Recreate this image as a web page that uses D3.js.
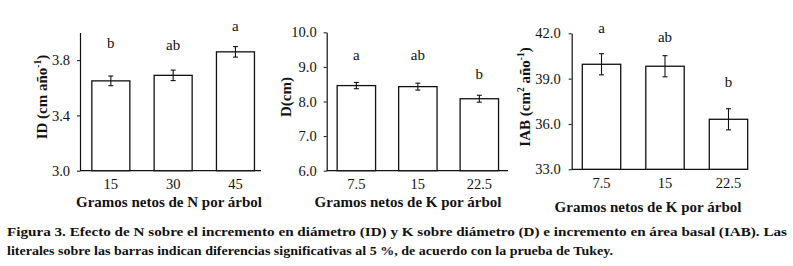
<!DOCTYPE html>
<html>
<head>
<meta charset="utf-8">
<script src="https://cdn.jsdelivr.net/npm/d3@7"></script>
<style>
  body { margin: 0; background: #fff; }
  text { font-family: "Liberation Serif", "DejaVu Serif", serif; fill: #111; }
</style>
</head>
<body>
<script>
// Tamaño de la figura
const WIDTH = 793;
const HEIGHT = 266;

// Datos: panel 1 (N -> ID)
const dosisN = ["15", "30", "45"];
const mediaID = [3.65, 3.69, 3.86];
const errorID = [0.035, 0.038, 0.038];
const letrasID = ["b", "ab", "a"];
const letrasIDen = [3.89, 3.873, 4.01];
const ticksID = [3.0, 3.4, 3.8];

// Datos: panel 2 (K -> D)
const dosisK = ["7.5", "15", "22.5"];
const mediaD = [8.46, 8.43, 8.08];
const errorD = [0.09, 0.1, 0.1];
const letrasD = ["a", "ab", "b"];
const letrasDen = [9.2, 9.2, 8.65];
const ticksD = [6.0, 7.0, 8.0, 9.0, 10.0];

// Datos: panel 3 (K -> IAB)
const mediaIAB = [39.95, 39.82, 36.31];
const errorIAB = [0.7, 0.7, 0.7];
const letrasIAB = ["a", "ab", "b"];
const letrasIABen = [42.04, 41.44, 38.47];
const ticksIAB = [33.0, 36.0, 39.0, 42.0];

const svg = d3.select("body")
  .append("svg")
  .attr("width", WIDTH)
  .attr("height", HEIGHT);

// Paneles: posición de cada gráfico
const paneles = [
  {
    cats: dosisN, media: mediaID, err: errorID, letras: letrasID, letrasEn: letrasIDen,
    ticks: ticksID, dominio: [3.0, 4.0], x0: 80, x1: 266.3, xFin: 261,
    top: 32.5, bottom: 170.7, pi: 0.39, po: 0.19, pad: 7,
    tituloX: "Gramos netos de N por árbol", tituloXx: 169, tituloXy: 207,
    tituloY: ["ID (cm año", "-1", ")"], tituloYx: 47, tituloYy: 97
  },
  {
    cats: dosisK, media: mediaD, err: errorD, letras: letrasD, letrasEn: letrasDen,
    ticks: ticksD, dominio: [6.0, 10.0], x0: 326.7, x1: 509, xFin: 508,
    top: 32.3, bottom: 170.7, pi: 0.375, po: 0.17, pad: 7,
    tituloX: "Gramos netos de K por árbol", tituloXx: 408, tituloXy: 207,
    tituloY: ["D(cm)"], tituloYx: 291, tituloYy: 97
  },
  {
    cats: dosisK, media: mediaIAB, err: errorIAB, letras: letrasIAB, letrasEn: letrasIABen,
    ticks: ticksIAB, dominio: [33.0, 42.0], x0: 571.7, x1: 758.3, xFin: 748,
    top: 33.3, bottom: 169.3, pi: 0.395, po: 0.167, pad: 8,
    tituloX: "Gramos netos de K por árbol", tituloXx: 648, tituloXy: 212,
    tituloY: ["IAB (cm", "2", " año", "-1", ")"], tituloYx: 530, tituloYy: 97
  }
];

paneles.forEach((p) => {
  const g = svg.append("g");

  const escalaX = d3.scaleBand()
    .domain(p.cats)
    .range([p.x0, p.x1])
    .paddingInner(p.pi)
    .paddingOuter(p.po);

  const escalaY = d3.scaleLinear()
    .domain(p.dominio)
    .range([p.bottom, p.top]);

  // Eje Y con marcas cortas hacia afuera
  const ejeY = g.append("g")
    .attr("transform", `translate(${p.x0}, 0)`)
    .call(d3.axisLeft(escalaY)
      .tickValues(p.ticks)
      .tickFormat(d3.format(".1f"))
      .tickSize(3)
      .tickSizeOuter(0)
      .tickPadding(p.pad));
  ejeY.select(".domain").attr("stroke", "#111").attr("stroke-width", 1.2);
  ejeY.selectAll("line").attr("stroke", "#111");
  ejeY.selectAll("text")
    .attr("font-size", 14.5)
    .attr("font-family", "Liberation Serif")
    .attr("fill", "#111");

  // Eje X sin marcas
  const ejeX = g.append("g")
    .attr("transform", `translate(0, ${p.bottom})`)
    .call(d3.axisBottom(escalaX).tickSize(0).tickPadding(8));
  ejeX.select(".domain").remove();
  ejeX.selectAll("text")
    .attr("font-size", 14.5)
    .attr("font-family", "Liberation Serif")
    .attr("fill", "#111");

  g.append("line")
    .attr("x1", p.x0).attr("x2", p.xFin)
    .attr("y1", p.bottom).attr("y2", p.bottom)
    .attr("stroke", "#111").attr("stroke-width", 1.2);

  const datos = p.cats.map((c, i) => ({
    cat: c, media: p.media[i], err: p.err[i], letra: p.letras[i], letraEn: p.letrasEn[i]
  }));

  // Barras
  g.selectAll("rect.barra")
    .data(datos)
    .join("rect")
    .attr("class", "barra")
    .attr("x", (d) => escalaX(d.cat))
    .attr("width", escalaX.bandwidth())
    .attr("y", (d) => escalaY(d.media))
    .attr("height", (d) => p.bottom - escalaY(d.media))
    .attr("fill", "#fff")
    .attr("stroke", "#111")
    .attr("stroke-width", 1.3);

  // Barras de error
  const cx = (d) => escalaX(d.cat) + escalaX.bandwidth() / 2;
  const err = g.selectAll("g.err")
    .data(datos)
    .join("g")
    .attr("class", "err")
    .attr("stroke", "#111")
    .attr("stroke-width", 1.1);
  err.append("line")
    .attr("x1", cx).attr("x2", cx)
    .attr("y1", (d) => escalaY(d.media + d.err))
    .attr("y2", (d) => escalaY(d.media - d.err));
  err.append("line")
    .attr("x1", (d) => cx(d) - 2.5).attr("x2", (d) => cx(d) + 2.5)
    .attr("y1", (d) => escalaY(d.media + d.err))
    .attr("y2", (d) => escalaY(d.media + d.err));
  err.append("line")
    .attr("x1", (d) => cx(d) - 2.5).attr("x2", (d) => cx(d) + 2.5)
    .attr("y1", (d) => escalaY(d.media - d.err))
    .attr("y2", (d) => escalaY(d.media - d.err));

  // Letras de Tukey
  g.selectAll("text.letra")
    .data(datos)
    .join("text")
    .attr("class", "letra")
    .attr("x", cx)
    .attr("y", (d) => escalaY(d.letraEn))
    .attr("text-anchor", "middle")
    .attr("font-size", 15)
    .text((d) => d.letra);

  // Título eje X
  g.append("text")
    .attr("x", p.tituloXx)
    .attr("y", p.tituloXy)
    .attr("text-anchor", "middle")
    .attr("font-size", 15)
    .attr("font-weight", "bold")
    .text(p.tituloX);

  // Título eje Y (rotado, con superíndices)
  const ty = g.append("text")
    .attr("transform", `translate(${p.tituloYx}, ${p.tituloYy}) rotate(-90)`)
    .attr("text-anchor", "middle")
    .attr("font-size", 15)
    .attr("font-weight", "bold");
  p.tituloY.forEach((t, i) => {
    const sup = i % 2 === 1;
    ty.append("tspan")
      .attr("font-size", sup ? 9.5 : 15)
      .attr("dy", sup ? -6 : (i > 0 ? 6 : 0))
      .text(t);
  });
});

// Pie de figura
const pie = [
  "Figura 3. Efecto de N sobre el incremento en diámetro (ID) y K sobre diámetro (D) e incremento en área basal (IAB). Las",
  "literales sobre las barras indican diferencias significativas al 5 %, de acuerdo con la prueba de Tukey."
];
const anchoPie = [780, 606];

svg.selectAll("text.pie")
  .data(pie)
  .join("text")
  .attr("class", "pie")
  .attr("x", 7)
  .attr("y", (d, i) => 236 + i * 19)
  .attr("font-size", 13.5)
  .attr("font-weight", "bold")
  .attr("textLength", (d, i) => anchoPie[i])
  .attr("lengthAdjust", "spacingAndGlyphs")
  .text((d) => d);
</script>
</body>
</html>
